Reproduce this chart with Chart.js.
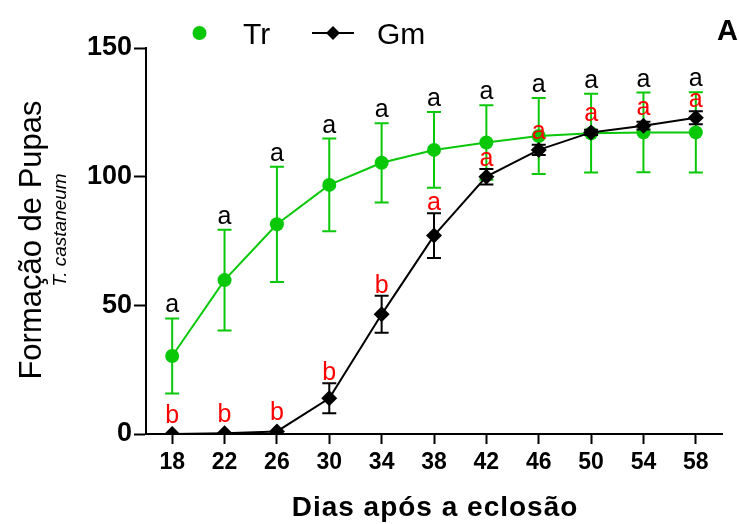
<!DOCTYPE html>
<html>
<head>
<meta charset="utf-8">
<script src="https://cdn.jsdelivr.net/npm/chart.js@4"></script>
<style>
  html, body { margin: 0; padding: 0; background: #fff; }
  #wrap { width: 739px; height: 524px; position: relative; }
</style>
</head>
<body>
<div id="wrap"><canvas id="pupas"></canvas></div>
<script>
// days after hatching
const days = ["18", "22", "26", "30", "34", "38", "42", "46", "50", "54", "58"];

// Tr series (mean and error)
const trMean = [30.3, 59.8, 81.5, 96.8, 105.4, 110.4, 113.3, 115.8, 116.9, 117.2, 117.2];
const trErr = [14.6, 19.6, 22.4, 18.0, 15.4, 14.7, 14.5, 14.8, 15.3, 15.5, 15.6];

// Gm series (mean and error)
const gmMean = [0, 0.3, 1.0, 13.9, 46.5, 77.1, 100.0, 110.4, 117.2, 119.8, 122.9];
const gmErr = [0, 0, 0, 5.8, 7.2, 8.7, 3.0, 2.0, 1.0, 1.5, 2.5];

// letters of significance
const trLetters = ["a", "a", "a", "a", "a", "a", "a", "a", "a", "a", "a"];
const gmLetters = ["b", "b", "b", "b", "b", "a", "a", "a", "a", "a", "a"];

const yTicks = [0, 50, 100, 150];

const GREEN = "rgb(8,200,8)";
const FONT = "'Liberation Sans', Arial, sans-serif";

// error bars, drawn just before each dataset so its own line/points sit on top
const errorBars = {
    id: "errorBars",
    beforeDatasetDraw(chart, args) {
        const ds = chart.data.datasets[args.index];
        const err = ds.errors;
        if (!err) return;
        const ctx = chart.ctx;
        const x = chart.scales.x, y = chart.scales.y;
        ctx.save();
        ctx.strokeStyle = ds.borderColor;
        ctx.lineWidth = 2;
        ds.data.forEach((v, i) => {
            if (!err[i]) return;
            const px = x.getPixelForValue(i);
            const top = y.getPixelForValue(v + err[i]);
            const bot = y.getPixelForValue(v - err[i]);
            ctx.beginPath();
            ctx.moveTo(px, top); ctx.lineTo(px, bot);
            ctx.moveTo(px - 7, top); ctx.lineTo(px + 7, top);
            ctx.moveTo(px - 7, bot); ctx.lineTo(px + 7, bot);
            ctx.stroke();
        });
        ctx.restore();
    },
    afterDatasetsDraw(chart) {
        const ctx = chart.ctx;
        const x = chart.scales.x, y = chart.scales.y;
        ctx.save();
        ctx.font = "25px " + FONT;
        ctx.textAlign = "center";
        ctx.textBaseline = "alphabetic";
        days.forEach((d, i) => {
            const px = x.getPixelForValue(i);
            ctx.fillStyle = "#000";
            ctx.fillText(trLetters[i], px, y.getPixelForValue(trMean[i] + trErr[i]) - 6);
            ctx.fillStyle = "#ff0000";
            const top = Math.min(y.getPixelForValue(gmMean[i] + gmErr[i]), y.getPixelForValue(gmMean[i]) - 8);
            ctx.fillText(gmLetters[i], px, top - 3);
        });
        ctx.restore();
    },
    afterDraw(chart) {
        const ctx = chart.ctx;
        ctx.save();
        ctx.fillStyle = "#000";

        // y title
        ctx.save();
        ctx.translate(32, 240);
        ctx.rotate(-Math.PI / 2);
        ctx.textAlign = "center";
        ctx.textBaseline = "middle";
        ctx.font = "31px " + FONT;
        ctx.fillText("Formação de Pupas", 0, 0);
        ctx.restore();

        ctx.save();
        ctx.translate(61, 230);
        ctx.rotate(-Math.PI / 2);
        ctx.textAlign = "center";
        ctx.textBaseline = "middle";
        ctx.font = "italic 19px " + FONT;
        ctx.fillText("T. castaneum", 0, 0);
        ctx.restore();

        // x title
        ctx.textAlign = "center";
        ctx.textBaseline = "alphabetic";
        ctx.font = "bold 28px " + FONT;
        ctx.letterSpacing = "1px";
        ctx.fillText("Dias após a eclosão", 435, 516);
        ctx.letterSpacing = "0px";

        // legend
        ctx.fillStyle = GREEN;
        ctx.beginPath();
        ctx.arc(199.5, 33, 7, 0, Math.PI * 2);
        ctx.fill();
        ctx.fillStyle = "#000";
        ctx.font = "30px " + FONT;
        ctx.textAlign = "left";
        ctx.fillText("Tr", 243, 44);
        ctx.strokeStyle = "#000";
        ctx.lineWidth = 2;
        ctx.beginPath();
        ctx.moveTo(312, 33); ctx.lineTo(354, 33);
        ctx.stroke();
        ctx.beginPath();
        ctx.moveTo(333, 26); ctx.lineTo(340, 33); ctx.lineTo(333, 40); ctx.lineTo(326, 33);
        ctx.closePath();
        ctx.fill();
        ctx.fillText("Gm", 377, 44);

        // panel letter
        ctx.font = "bold 29px " + FONT;
        ctx.textAlign = "right";
        ctx.fillText("A", 738, 40);
        ctx.restore();
    }
};

new Chart(document.getElementById("pupas"), {
    type: "line",
    data: {
        labels: days,
        datasets: [
            {
                label: "Tr",
                data: trMean,
                errors: trErr,
                borderColor: GREEN,
                backgroundColor: GREEN,
                borderWidth: 2,
                pointStyle: "circle",
                pointRadius: 7,
                pointBorderWidth: 0,
                tension: 0,
                order: 1
            },
            {
                label: "Gm",
                data: gmMean,
                errors: gmErr,
                borderColor: "#000",
                backgroundColor: "#000",
                borderWidth: 2,
                pointStyle: "rectRot",
                pointRadius: 8,
                pointBorderWidth: 0,
                tension: 0,
                order: 0
            }
        ]
    },
    options: {
        responsive: true,
        maintainAspectRatio: false,
        animation: false,
        layout: { padding: { left: 0, right: 17, top: 48, bottom: 0 } },
        plugins: {
            legend: { display: false },
            tooltip: { enabled: false }
        },
        scales: {
            x: {
                type: "category",
                offset: true,
                afterFit: s => { s.height = 90; },
                grid: {
                    offset: false,
                    drawOnChartArea: false,
                    drawTicks: true,
                    tickLength: 10,
                    tickWidth: 2,
                    tickColor: "#000"
                },
                border: { display: true, color: "#000", width: 2 },
                ticks: {
                    color: "#000",
                    padding: 5,
                    maxRotation: 0,
                    autoSkip: false,
                    font: { family: FONT, size: 23, weight: "bold" }
                }
            },
            y: {
                min: 0,
                max: 150,
                afterFit: s => { s.width = 146; },
                afterBuildTicks: s => { s.ticks = yTicks.map(v => ({ value: v })); },
                grid: {
                    drawOnChartArea: false,
                    drawTicks: true,
                    tickLength: 12,
                    tickWidth: 2,
                    tickColor: "#000"
                },
                border: { display: true, color: "#000", width: 2 },
                ticks: {
                    color: "#000",
                    padding: 2,
                    font: { family: FONT, size: 27, weight: "bold" }
                }
            }
        }
    },
    plugins: [errorBars]
});
</script>
</body>
</html>
